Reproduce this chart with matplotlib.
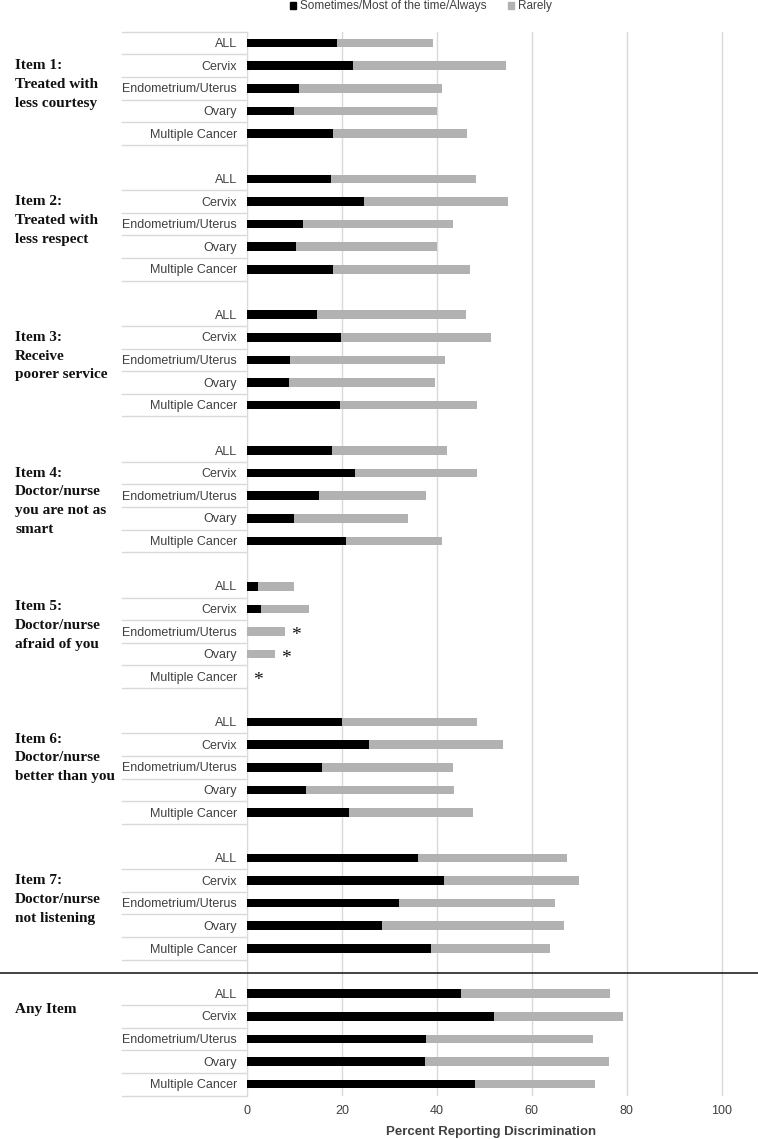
import matplotlib.pyplot as plt
import numpy as np
from matplotlib.patches import Patch

categories = ['ALL', 'Cervix', 'Endometrium/Uterus', 'Ovary', 'Multiple Cancer']

item_labels = [
    ['Item 1:', 'Treated with', 'less courtesy'],
    ['Item 2:', 'Treated with', 'less respect'],
    ['Item 3:', 'Receive', 'poorer service'],
    ['Item 4:', 'Doctor/nurse', 'you are not as', 'smart'],
    ['Item 5:', 'Doctor/nurse', 'afraid of you'],
    ['Item 6:', 'Doctor/nurse', 'better than you'],
    ['Item 7:', 'Doctor/nurse', 'not listening'],
    ['Any Item'],
]

# percent "Sometimes/Most of the time/Always"
sometimes = [
    [19.0, 22.3, 10.9, 9.9, 18.1],
    [17.7, 24.6, 11.8, 10.3, 18.1],
    [14.7, 19.9, 9.1, 8.8, 19.6],
    [17.9, 22.7, 15.1, 10.0, 20.8],
    [2.3, 3.0, 0.0, 0.0, 0.0],
    [20.1, 25.8, 15.9, 12.5, 21.4],
    [36.1, 41.4, 32.0, 28.4, 38.7],
    [45.0, 52.0, 37.6, 37.5, 48.0],
]

# percent "Rarely"
rarely = [
    [20.2, 32.2, 30.1, 30.1, 28.2],
    [30.5, 30.3, 31.5, 29.8, 28.9],
    [31.5, 31.4, 32.7, 30.8, 28.8],
    [24.2, 25.7, 22.5, 23.9, 20.2],
    [7.6, 10.0, 8.0, 5.9, 0.0],
    [28.4, 28.2, 27.4, 31.2, 26.2],
    [31.3, 28.5, 32.9, 38.4, 25.2],
    [31.5, 27.3, 35.3, 38.7, 25.2],
]

# rows of item 5 flagged with an asterisk
starred = [(4, 2), (4, 3), (4, 4)]

# first text line of each item label, as row offset in its group
label_row = [1.0, 1.0, 1.0, 1.0, 0.9, 0.75, 1.0, 0.68]
line_step = 0.83

black = '#000000'
grey = '#b2b2b2'
grid_c = '#d9d9d9'
txt_c = '#404040'

fig = plt.figure(figsize=(7.58, 11.39), dpi=100)
ax = fig.add_axes([247 / 758, 1 - 1095.5 / 1139, 489 / 758, (1095.5 - 31.7) / 1139])

slots = 6
bar_h = 0.38
for g in range(len(item_labels)):
    ys = g * slots + np.arange(len(categories))
    s = np.array(sometimes[g])
    r = np.array(rarely[g])
    ax.barh(ys, s, height=bar_h, color=black, zorder=3)
    ax.barh(ys, r, left=s, height=bar_h, color=grey, zorder=3)
    for i, y in enumerate(ys):
        ax.text(-0.02, y + 0.05, categories[i], transform=ax.get_yaxis_transform(),
                ha='right', va='center', fontsize=9, color=txt_c,
                family='Liberation Sans')
    # separator lines in label column
    seps = list(ys + 0.5)
    if g == 0:
        seps = [ys[0] - 0.5] + seps
    for y in seps:
        ax.plot([-0.256, 0], [y, y], transform=ax.get_yaxis_transform(),
                color=grid_c, lw=1, clip_on=False)
    # item label
    for k, line in enumerate(item_labels[g]):
        ax.text(-0.474, g * slots + label_row[g] + k * line_step, line,
                transform=ax.get_yaxis_transform(), ha='left', va='center',
                fontsize=11, fontweight='bold', family='Liberation Serif',
                color='#111111')

for g, i in starred:
    tot = sometimes[g][i] + rarely[g][i]
    ax.annotate('*', (tot, g * slots + i), xytext=(8, -3), textcoords='offset points',
                ha='center', va='center', fontsize=14, family='Liberation Serif',
                color='#111111')

# line separating the items from "Any Item"
ax.plot([-0.52, 1.06], [41.1, 41.1], transform=ax.get_yaxis_transform(),
        color='#222222', lw=1.2, clip_on=False, zorder=5)

n_slots = len(item_labels) * slots - 1
ax.set_ylim(n_slots - 0.5, -0.5)
ax.set_xlim(0, 103)
ax.set_xticks([0, 20, 40, 60, 80, 100])
ax.set_yticks([])
ax.xaxis.grid(True, color=grid_c, lw=1, zorder=0)
ax.set_axisbelow(True)
for side in ['top', 'right', 'bottom']:
    ax.spines[side].set_visible(False)
ax.spines['left'].set_color(grid_c)
ax.tick_params(axis='x', length=0, pad=7, labelsize=9, labelcolor=txt_c)
for lbl in ax.get_xticklabels():
    lbl.set_family('Liberation Sans')
ax.set_xlabel('Percent Reporting Discrimination', fontsize=9.5, fontweight='bold',
              color=txt_c, family='Liberation Sans', labelpad=6)

handles = [Patch(color=black, label='Sometimes/Most of the time/Always'),
           Patch(color=grey, label='Rarely')]
fig.legend(handles=handles, loc='upper center', bbox_to_anchor=(0.555, 1.009),
           ncol=2, frameon=False, handlelength=0.55, handleheight=0.55,
           handletextpad=0.3, columnspacing=1.8,
           prop={'family': 'Liberation Sans', 'size': 8.5}, labelcolor=txt_c)

plt.savefig('out.png', dpi=100)
